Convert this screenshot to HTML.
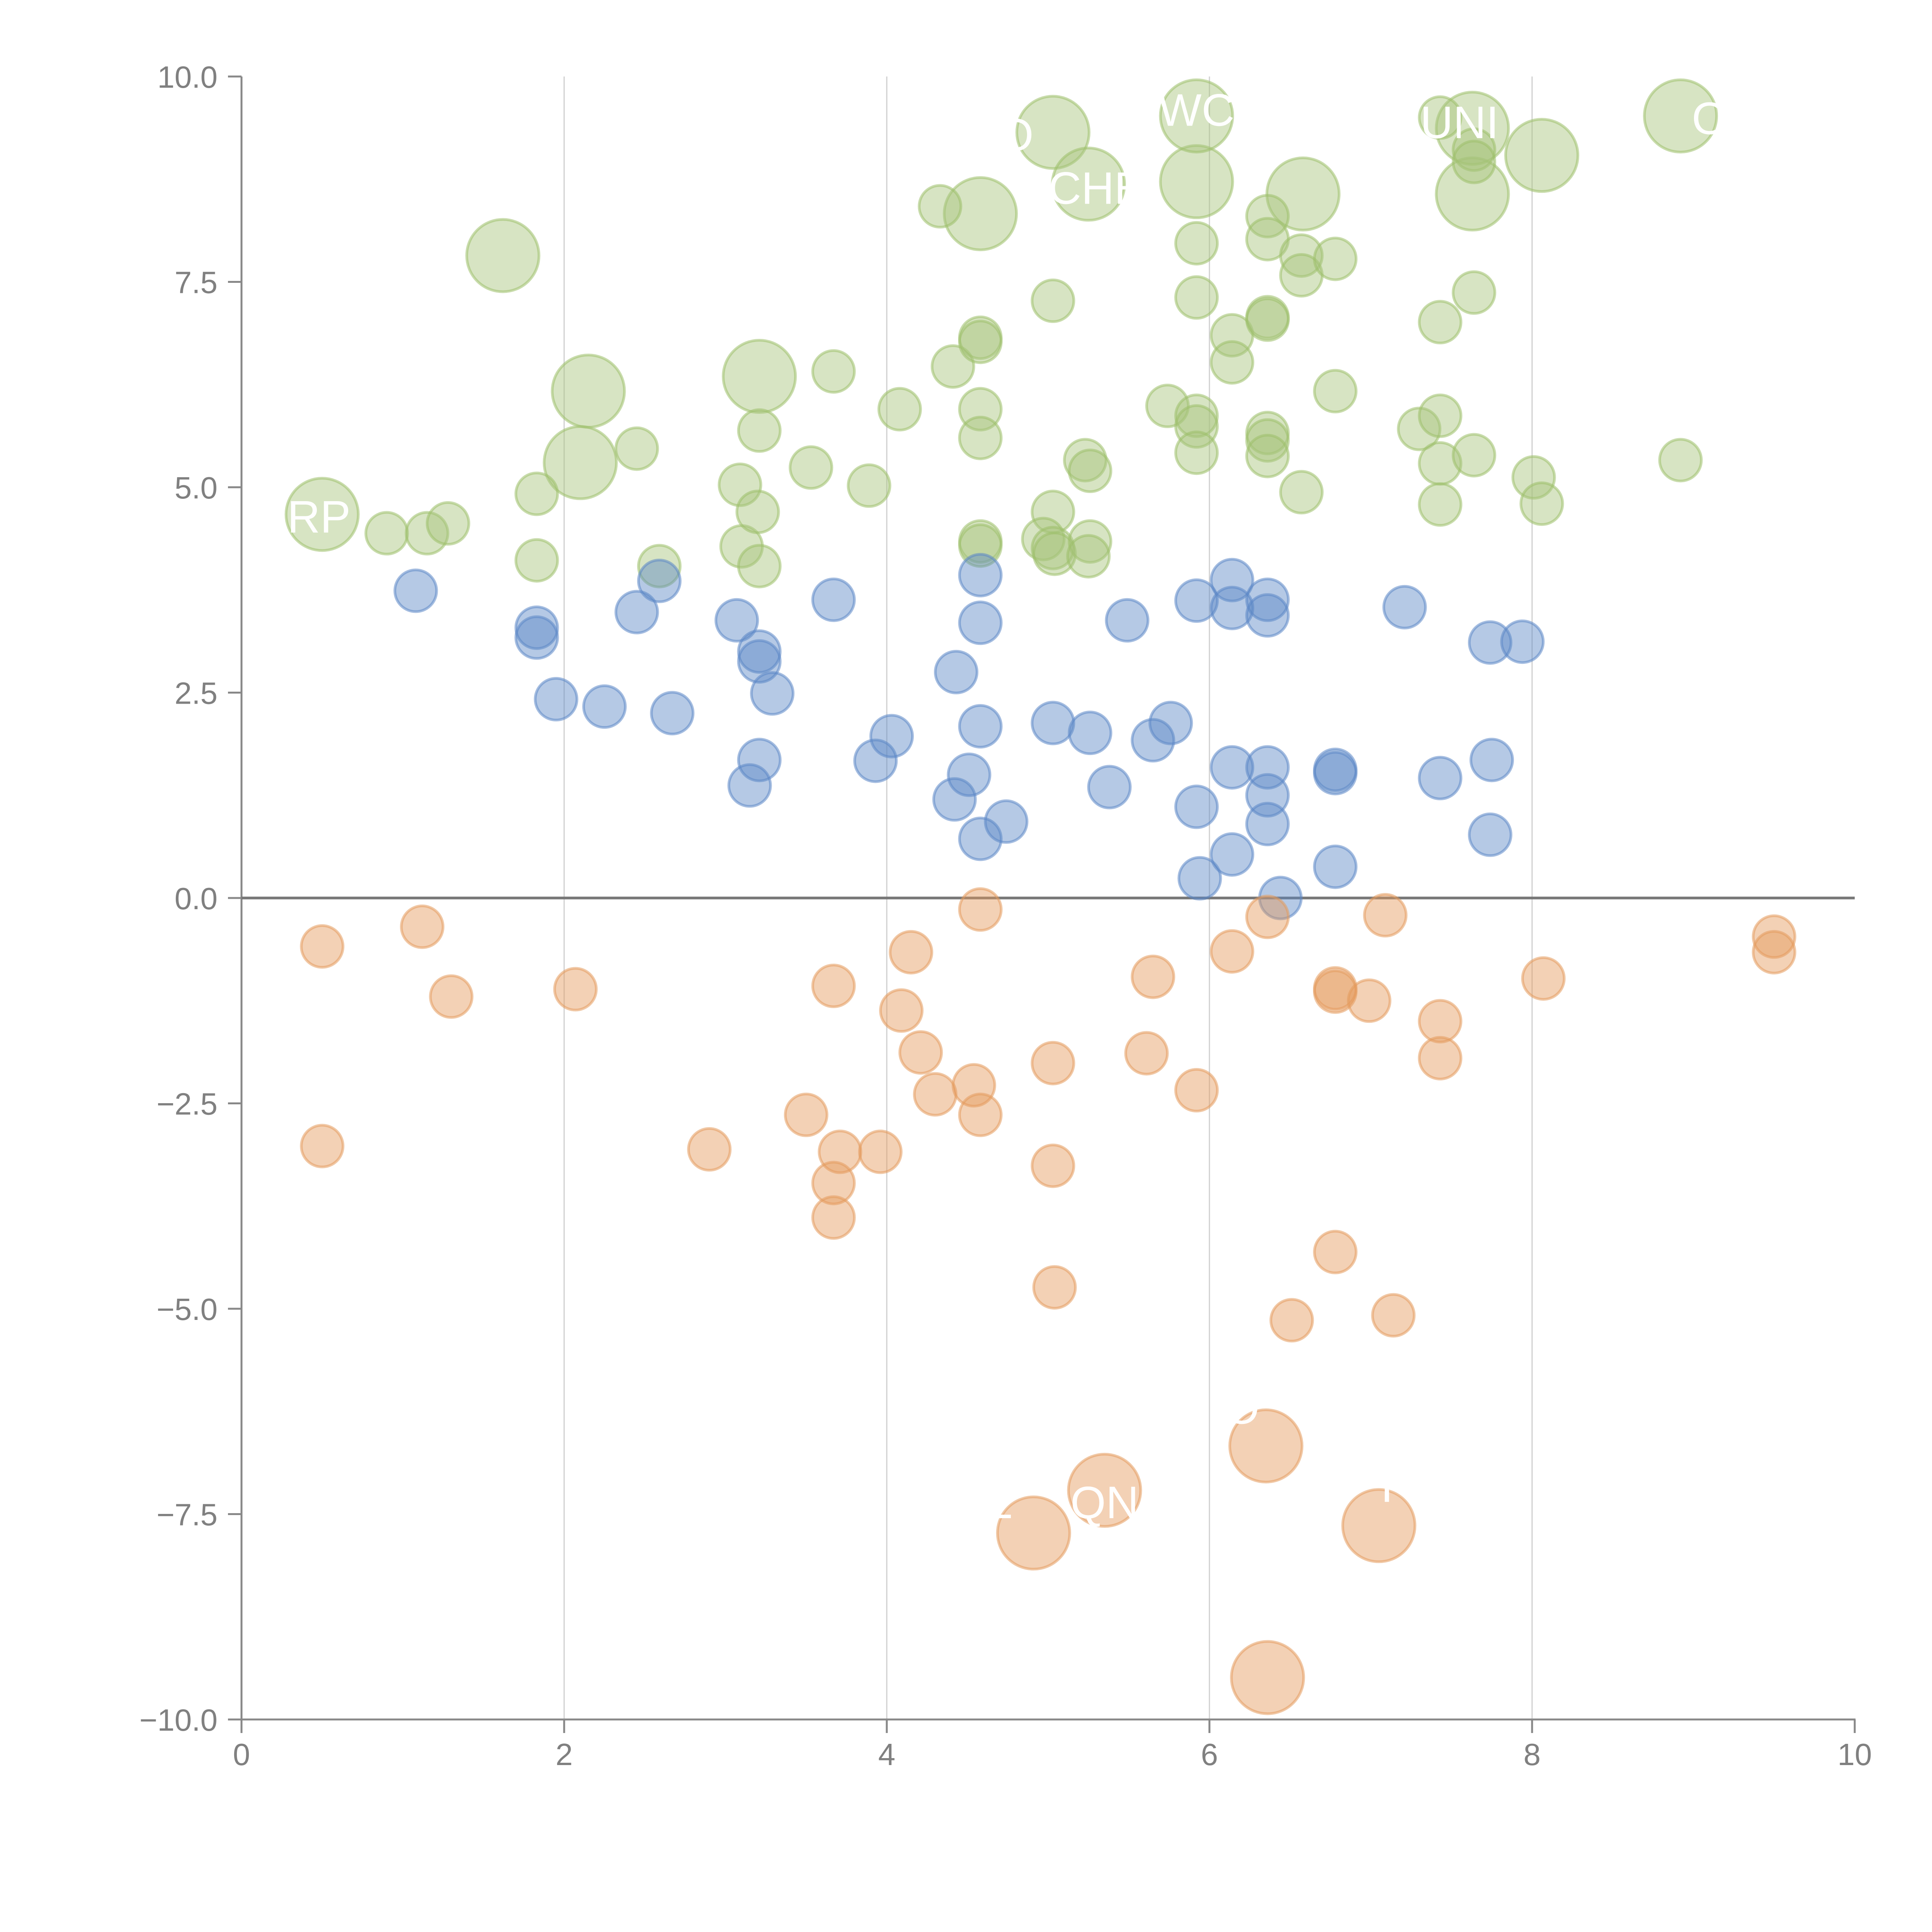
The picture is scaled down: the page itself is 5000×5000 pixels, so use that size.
<!DOCTYPE html>
<html><head><meta charset="utf-8"><title>Bubble chart</title>
<style>html,body{margin:0;padding:0;background:#fff;}svg{display:block;}</style></head>
<body>
<svg id="chart" width="5000" height="5000" viewBox="0 0 5000 5000" xmlns="http://www.w3.org/2000/svg" font-family="'Liberation Sans', Arial, sans-serif">
<g id="grid"></g>
<g id="axes"></g>
<g id="marks"></g>
<g id="labels"></g>
</svg>
<script>
const xTicks = [0, 2, 4, 6, 8, 10];
const yTicks = [10, 7.5, 5, 2.5, 0, -2.5, -5, -7.5, -10];
const yTickLabels = ["10.0","7.5","5.0","2.5","0.0","\u22122.5","\u22125.0","\u22127.5","\u221210.0"];
const xTickLabels = ["0","2","4","6","8","10"];

const greenX = [1.62,0.50,2.15,2.10,3.21,4.58,5.03,5.25,5.92,5.92,6.58,7.63,7.63,8.06,8.92,
0.90,1.15,1.28,1.83,1.83,2.45,2.59,3.09,3.10,3.20,3.21,3.21,3.53,3.67,3.89,4.08,4.33,4.41,4.58,4.58,4.58,4.58,4.58,4.58,5.03,5.03,4.97,5.03,5.04,5.23,5.26,5.26,5.25,5.74,5.92,5.92,5.92,5.92,5.92,6.14,6.14,6.36,6.36,6.36,6.36,6.36,6.36,6.36,6.57,6.57,6.57,6.78,6.78,7.30,7.43,7.43,7.43,7.43,7.64,7.64,7.64,7.64,8.01,8.06,8.92,7.43];
const greenY = [7.82,4.67,6.17,5.30,6.35,8.33,9.32,8.69,8.72,9.52,8.57,8.57,9.37,9.04,9.52,
4.44,4.44,4.56,4.92,4.11,5.47,4.04,5.03,4.28,4.70,5.69,4.04,5.24,6.41,5.02,5.95,8.42,6.47,6.82,6.77,5.95,5.60,4.34,4.29,7.27,4.70,4.37,4.26,4.19,5.33,5.20,4.34,4.16,5.99,7.97,7.31,5.87,5.74,5.42,6.85,6.52,8.30,8.02,7.07,7.04,5.66,5.57,5.38,7.82,7.58,4.94,7.78,6.17,5.71,7.01,5.87,5.29,4.79,7.37,5.39,9.11,8.96,5.12,4.80,5.33,9.50];
const greenSize = [3,3,3,3,3,3,3,3,3,3,3,3,3,3,3,
1,1,1,1,1,1,1,1,1,1,1,1,1,1,1,1,1,1,1,1,1,1,1,1,1,1,1,1,1,1,1,1,1,1,1,1,1,1,1,1,1,1,1,1,1,1,1,1,1,1,1,1,1,1,1,1,1,1,1,1,1,1,1,1,1,1];

const blueX = [1.08,1.83,1.83,1.95,2.25,2.45,2.59,2.67,3.07,3.21,3.21,3.29,3.21,3.15,3.67,3.93,4.03,4.43,4.42,4.51,4.58,4.58,4.58,4.58,4.74,5.03,5.26,5.38,5.49,5.65,5.76,5.92,5.92,5.94,6.14,6.14,6.14,6.14,6.36,6.36,6.36,6.36,6.36,6.44,6.78,6.78,6.78,7.21,7.43,7.74,7.94,7.75,7.74];
const blueY = [3.74,3.29,3.17,2.42,2.33,3.48,3.86,2.25,3.38,3.00,2.88,2.49,1.68,1.37,3.63,1.67,1.97,2.75,1.20,1.50,3.93,3.35,2.09,0.72,0.93,2.13,2.01,1.35,3.38,1.92,2.13,3.62,1.11,0.24,3.87,3.53,1.59,0.53,3.63,3.44,1.59,1.25,0.90,0.00,1.56,1.52,0.38,3.54,1.46,3.11,3.12,1.68,0.77];

const orangeX = [0.50,0.50,1.12,1.30,2.07,2.90,3.50,3.67,3.71,3.67,3.67,3.96,4.15,4.09,4.21,4.30,4.54,4.58,4.58,5.03,5.03,5.04,5.65,5.61,5.92,6.14,6.36,6.51,6.78,6.78,6.99,7.09,6.78,7.14,7.43,7.43,8.07,9.50,9.50,
6.35,5.35,4.91,7.05,6.36];
const orangeY = [-0.59,-3.02,-0.35,-1.20,-1.11,-3.06,-2.64,-1.07,-3.09,-3.47,-3.89,-3.09,-0.66,-1.37,-1.88,-2.39,-2.28,-2.64,-0.14,-2.01,-3.26,-4.74,-0.96,-1.89,-2.34,-0.65,-0.23,-5.14,-1.10,-1.14,-1.25,-0.21,-4.31,-5.08,-1.50,-1.95,-0.98,-0.47,-0.66,
-6.67,-7.21,-7.73,-7.64,-9.49];
const orangeSize = [1,1,1,1,1,1,1,1,1,1,1,1,1,1,1,1,1,1,1,1,1,1,1,1,1,1,1,1,1,1,1,1,1,1,1,1,1,1,1,3,3,3,3,3];

const labelText = ["RP","WC","O","CHE","UNI","O","QN","O","T","L"];
const labelX = [0.48,5.92,4.80,5.30,7.55,9.10,5.35,6.20,7.10,4.70];
const labelY = [4.45,9.40,9.10,8.45,9.25,9.30,-7.55,-6.40,-7.35,-7.55];

const X0 = 625, X1 = 4800, Y0 = 4450, Y1 = 198;
function sx(v){ return X0 + (v - 0) / 10 * (X1 - X0); }
function sy(v){ return Y0 - (v + 10) / 20 * (Y0 - Y1); }
function sr(s){ return 54 * Math.sqrt(s); }
const NS = "http://www.w3.org/2000/svg";
function mk(tag, attrs, parent){ const e = document.createElementNS(NS, tag); for (const k in attrs) e.setAttribute(k, attrs[k]); parent.appendChild(e); return e; }

const grid = document.getElementById('grid');
xTicks.forEach(function(t){
  if (t === 0 || t === 10) return;
  const l = mk('line', {x1: sx(t), x2: sx(t), y1: Y1, y2: Y0, stroke: '#cfcfcf', 'stroke-width': 3}, grid);
  
  
});

const axes = document.getElementById('axes');
const ya = mk('line', {x1: X0, x2: X0, y1: Y1, y2: Y0, stroke: '#888', 'stroke-width': 5}, axes);


const xa = mk('line', {x1: X0, x2: X1 + 2, y1: Y0, y2: Y0, stroke: '#888', 'stroke-width': 5}, axes);


yTicks.forEach(function(t, i){
  const tk = mk('line', {x1: X0 - 35, x2: X0, y1: sy(t), y2: sy(t), stroke: '#888', 'stroke-width': 5}, axes);
  
  
  const tx = mk('text', {x: X0 - 62, y: sy(t) + 29, 'text-anchor': 'end', 'font-size': 80, fill: '#808080'}, axes);
  tx.textContent = yTickLabels[i];
  
  
});
xTicks.forEach(function(t, i){
  const tk = mk('line', {x1: sx(t), x2: sx(t), y1: Y0, y2: Y0 + 35, stroke: '#888', 'stroke-width': 5}, axes);
  
  
  const tx = mk('text', {x: sx(t), y: Y0 + 118, 'text-anchor': 'middle', 'font-size': 80, fill: '#808080'}, axes);
  tx.textContent = xTickLabels[i];
  
  
});
const zl = mk('line', {x1: X0, x2: X1, y1: sy(0), y2: sy(0), stroke: '#777', 'stroke-width': 7}, axes);



const marks = document.getElementById('marks');
function drawSeries(xs, ys, sizes, fill, stroke, name){
  xs.forEach(function(x, i){
    const s = sizes ? sizes[i] : 1;
    const c = mk('circle', {cx: sx(x), cy: sy(ys[i]), r: sr(s), fill: fill, 'fill-opacity': 0.45, stroke: stroke, 'stroke-opacity': 0.55, 'stroke-width': 7}, marks);
    
    
  });
}
drawSeries(greenX, greenY, greenSize, '#a6c47a', '#9dbf6a', 'green-bubble');
drawSeries(blueX, blueY, null, '#5b87c6', '#5b87c6', 'blue-bubble');
drawSeries(orangeX, orangeY, orangeSize, '#e59a5c', '#e39a5c', 'orange-bubble');

const labels = document.getElementById('labels');
labelText.forEach(function(t, i){
  const tx = mk('text', {x: sx(labelX[i]), y: sy(labelY[i]), 'text-anchor': 'middle', 'font-size': 118, fill: '#fff'}, labels);
  tx.textContent = t;
  
  
});
</script>
</body></html>
